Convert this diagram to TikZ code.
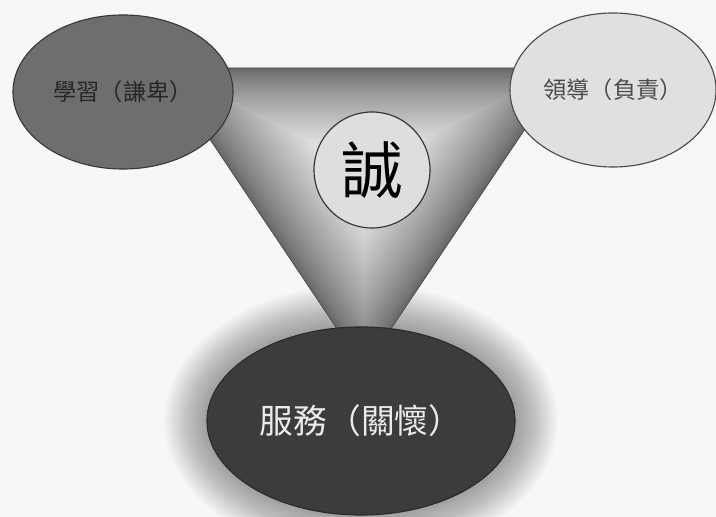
\documentclass[tikz,border=0pt]{standalone}
\usepackage{fontspec}
\newfontfamily\tcfont{Noto Sans CJK TC}
\usetikzlibrary{shapes.geometric,calc,backgrounds}
\definecolor{paperFill}{HTML}{F7F7F9}
\definecolor{learnFill}{HTML}{6E6E6E}
\definecolor{learnStroke}{HTML}{383838}
\definecolor{leadFill}{HTML}{E0E0E0}
\definecolor{leadStroke}{HTML}{4A4A4A}
\definecolor{serveFill}{HTML}{3C3C3C}
\definecolor{serveStroke}{HTML}{2A2A2A}
\definecolor{coreFill}{HTML}{DEDEDE}
\definecolor{coreStroke}{HTML}{303030}
\definecolor{edgeGray}{HTML}{686868}

\begin{document}
\begin{tikzpicture}[
    x=0.025cm, y=-0.025cm,
    font=\tcfont,
    roleNode/.style={
        ellipse, inner sep=0pt,
        line width=0.8pt,
        align=center
    },
    learnNode/.style={
        roleNode,
        draw=learnStroke, fill=learnFill, text=black!85,
        minimum width=5.5cm, minimum height=3.85cm,
        font=\tcfont\fontsize{16.5}{18}\selectfont
    },
    leadNode/.style={
        roleNode,
        draw=leadStroke, fill=leadFill, text=black!70,
        minimum width=5.15cm, minimum height=3.85cm,
        font=\tcfont\fontsize{16.5}{18}\selectfont
    },
    serveNode/.style={
        roleNode,
        draw=serveStroke, fill=serveFill, text=white!92!black,
        minimum width=7.7cm, minimum height=4.7cm,
        font=\tcfont\fontsize{24}{26}\selectfont
    },
    coreNode/.style={
        circle, inner sep=0pt,
        draw=coreStroke, line width=0.8pt, fill=coreFill,
        minimum size=2.9cm,
        font=\tcfont\fontsize{44}{46}\selectfont
    },
    halo/.style={fill=black, opacity=0.016}
]
\useasboundingbox (0,0) rectangle (716,517);

% corners of the inverted triangle, the tip sits under the bottom ellipse
\coordinate (TopL) at (162,68);
\coordinate (TopR) at (566,68);
\coordinate (Tip) at (364,369);
\coordinate (Mid) at (364,168.3);

\node[learnNode] (Learn) at (123,92) {學習（謙卑）};
\node[leadNode] (Lead) at (613,90) {領導（負責）};
\node[coreNode] (Core) at (372,170) {誠};
\node[serveNode] (Serve) at (361,421) {服務（關懷）};

\begin{scope}[on background layer]
  \fill[paperFill] (0,0) rectangle (716,517);
  % soft glow round the bottom ellipse
  \foreach \r in {1,...,24}
    \fill[halo] (Serve.center) ellipse [x radius={3.85cm+\r*0.045cm}, y radius={2.35cm+\r*0.045cm}];
  % triangle shaded from dark edges to a light middle
  \foreach \i in {0,...,60} {
    \pgfmathsetmacro{\s}{1-\i/60}
    \pgfmathsetmacro{\p}{100*(\i/60)^0.8}
    \fill[white!\p!edgeGray] ($(Mid)!\s!(TopL)$) -- ($(Mid)!\s!(TopR)$) -- ($(Mid)!\s!(Tip)$) -- cycle;
  }
  \draw[edgeGray!70!black, line width=0.5pt] (TopL) -- (TopR) -- (Tip) -- cycle;
\end{scope}

\end{tikzpicture}
\end{document}
